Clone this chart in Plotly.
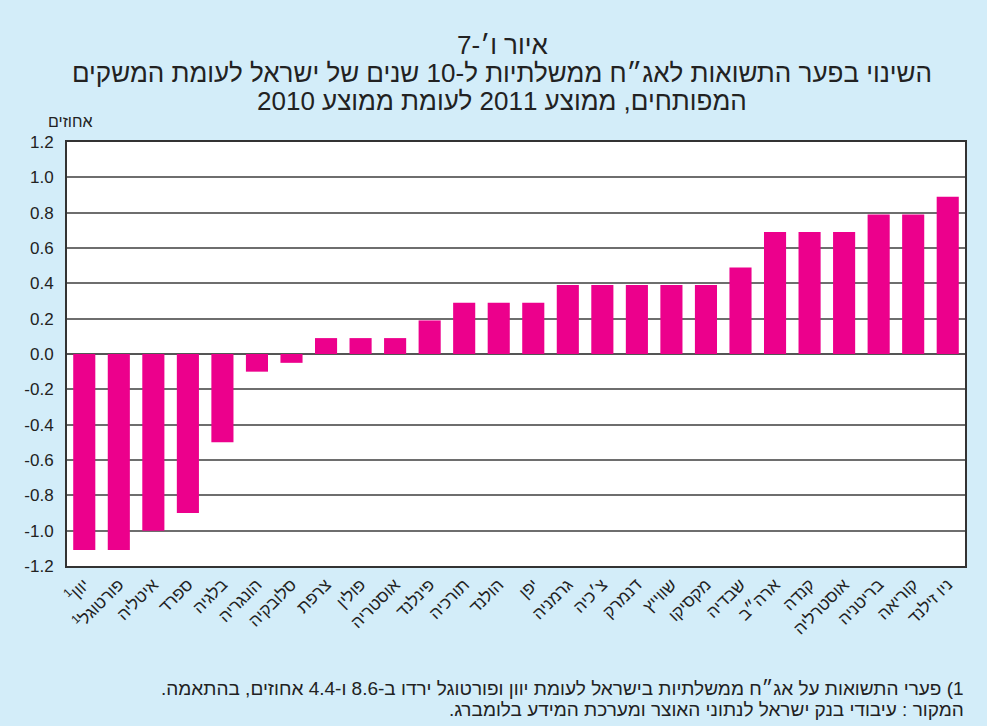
import plotly.graph_objects as go

countries = ["יוון<sup>1</sup>", "פורטוגל<sup>1</sup>", "איטליה", "ספרד", "בלגיה", "הונגריה",
             "סלובקיה", "צרפת", "פולין", "אוסטריה", "פינלנד", "תורכיה", "הולנד", "יפן",
             "גרמניה", "צ׳כיה", "דנמרק", "שווייץ", "מקסיקו", "שבדיה", "ארה״ב", "קנדה",
             "אוסטרליה", "בריטניה", "קוריאה", "ניו זילנד"]
values = [-1.11, -1.11, -1.0, -0.9, -0.5, -0.1, -0.05, 0.09, 0.09, 0.09, 0.19, 0.29,
          0.29, 0.29, 0.39, 0.39, 0.39, 0.39, 0.39, 0.49, 0.69, 0.69, 0.69, 0.79, 0.79, 0.89]
ytickvals = [-1.2, -1.0, -0.8, -0.6, -0.4, -0.2, 0.0, 0.2, 0.4, 0.6, 0.8, 1.0, 1.2]
yticktext = ["-1.2", "-1.0", "-0.8", "-0.6", "-0.4", "-0.2", "0.0", "0.2", "0.4", "0.6", "0.8", "1.0", "1.2"]

title_lines = ["איור ו׳-7",
               "השינוי בפער התשואות לאג״ח ממשלתיות ל-10 שנים של ישראל לעומת המשקים",
               "המפותחים, ממוצע 2011 לעומת ממוצע 2010"]
unit_label = "אחוזים"
footnotes = ["1) פערי התשואות על אג״ח ממשלתיות בישראל לעומת יוון ופורטוגל ירדו ב-8.6 ו-4.4 אחוזים, בהתאמה.",
             "המקור : עיבודי בנק ישראל לנתוני האוצר ומערכת המידע בלומברג."]

BG = "#D3EDF9"
BAR = "#EC008C"
RLE, PDF = "\u202B", "\u202C"

W, H = 987, 726
ML, MR, MT, MB = 67, 22, 142, 160
PW, PH = W - ML - MR, H - MT - MB

def px_x(p):
    return (p - ML) / PW

def px_y(p):
    return (H - MB - p) / PH

fig = go.Figure(go.Bar(x=countries, y=values, marker=dict(color=BAR, line=dict(width=0))))

fig.update_layout(
    width=W, height=H,
    paper_bgcolor=BG, plot_bgcolor="white",
    margin=dict(l=ML, r=MR, t=MT, b=MB),
    bargap=0.36, showlegend=False,
    font=dict(family="Liberation Sans, DejaVu Sans", color="#222"),
)
fig.update_xaxes(
    tickangle=-45, tickfont=dict(size=17, family="Liberation Sans, DejaVu Sans", color="#222"),
    showline=True, linecolor="#333", linewidth=2, mirror=True, ticks="", showgrid=False,
)
fig.update_yaxes(
    range=[-1.2, 1.2], tickvals=ytickvals, ticktext=yticktext,
    tickfont=dict(size=17, family="Liberation Sans, Arial", color="#222"),
    showline=True, linecolor="#333", linewidth=2, mirror=True,
    showgrid=True, gridcolor="#6e6e6e", gridwidth=1.5,
    zeroline=True, zerolinecolor="#555", zerolinewidth=2, ticks="", ticklabelstandoff=8,
)

title_font = dict(family="Liberation Sans, DejaVu Sans", size=26, color="#222")
for txt, yp in zip(title_lines, [45, 73, 101]):
    fig.add_annotation(text=RLE + txt + PDF, xref="paper", yref="paper", x=px_x(502), y=px_y(yp),
                       showarrow=False, font=title_font, xanchor="center", yanchor="middle")

fig.add_annotation(text=unit_label, xref="paper", yref="paper", x=px_x(95),
                   y=px_y(122), showarrow=False, xanchor="right", yanchor="middle",
                   font=dict(family="Liberation Sans, DejaVu Sans", size=16, color="#222"))

foot_font = dict(family="Liberation Sans, DejaVu Sans", size=19, color="#222")
for txt, yp in zip(footnotes, [688, 709]):
    fig.add_annotation(text=RLE + txt + PDF, xref="paper", yref="paper", x=px_x(966), y=px_y(yp),
                       showarrow=False, xanchor="right", yanchor="middle", font=foot_font)

fig.write_html("out.html")
